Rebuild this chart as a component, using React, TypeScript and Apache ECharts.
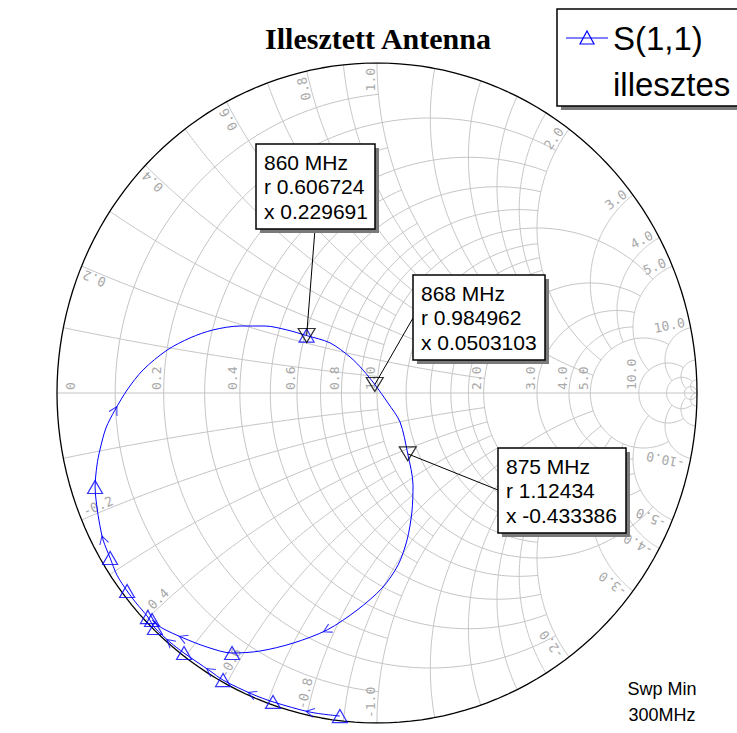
import React, { useEffect, useRef } from "react";
import * as echarts from "echarts";

const traceRe = [-0.116, -0.209, -0.325, -0.391, -0.481, -0.522, -0.603, -0.647, -0.694, -0.716, -0.753, -0.781, -0.8125, -0.834, -0.856, -0.869, -0.878, -0.881, -0.875, -0.866, -0.847, -0.819, -0.781, -0.731, -0.656, -0.584, -0.513, -0.428, -0.35, -0.281, -0.22, -0.147, -0.084, -0.044, -0.007, 0.034, 0.072, 0.096, 0.1125, 0.109, 0.094, 0.066, 0.016, -0.0625, -0.156, -0.2625, -0.366, -0.453, -0.531, -0.606, -0.672, -0.703];
const traceIm = [-0.979, -0.967, -0.936, -0.912, -0.87, -0.842, -0.788, -0.755, -0.712, -0.679, -0.636, -0.6, -0.552, -0.5, -0.445, -0.385, -0.324, -0.285, -0.218, -0.173, -0.106, -0.052, 0.009, 0.07, 0.13, 0.167, 0.191, 0.203, 0.203, 0.191, 0.174, 0.152, 0.109, 0.07, 0.026, -0.03, -0.088, -0.184, -0.279, -0.361, -0.445, -0.521, -0.591, -0.658, -0.718, -0.758, -0.782, -0.788, -0.77, -0.742, -0.712, -0.688];
const triangleIdx = [0, 2, 4, 6, 8, 9, 11, 13, 17, 30, 47, 51];
const arrowIdx = [1, 3, 5, 7, 14, 21, 44, 49];

// Markers (normalized impedance)
const markerFreq = ["860 MHz", "868 MHz", "875 MHz"];
const markerR = [0.606724, 0.984962, 1.12434];
const markerX = [0.229691, 0.0503103, -0.433386];

// Smith grid definition
const gridVals = [0.1, 0.2, 0.3, 0.4, 0.5, 0.6, 0.7, 0.8, 0.9, 1.0, 1.2, 1.4, 1.6, 1.8, 2.0, 3.0, 4.0, 5.0, 10, 20, 50];
const gridLimits = [1, 2, 1, 2, 1, 2, 1, 2, 1, 5, 2, 2, 2, 2, 5, 5, 5, 10, 20, 50, Infinity];
const rLabels = [0, 0.2, 0.4, 0.6, 0.8, 1.0, 2.0, 3.0, 4.0, 5.0, 10.0];
const xLabels = [0.2, 0.4, 0.6, 0.8, 1.0, 2.0, 3.0, 4.0, 5.0, 10.0];

const titleText = "Illesztett Antenna";
const legendLines = ["S(1,1)", "illesztes"];
const sweepLines = ["Swp Min", "300MHz"];

function gam(r: number, x: number): [number, number] {
  const d = (r + 1) * (r + 1) + x * x;
  return [(r * r + x * x - 1) / d, (2 * x) / d];
}

function rCircle(r: number, X: number): number[][] {
  const c = r / (1 + r);
  const R = 1 / (1 + r);
  let p0 = 0;
  if (isFinite(X)) {
    const g = gam(r, X);
    p0 = Math.atan2(g[1], g[0] - c);
  }
  const pts: number[][] = [];
  const n = 180;
  for (let i = 0; i <= n; i++) {
    const phi = p0 + ((2 * Math.PI - 2 * p0) * i) / n;
    pts.push([c + R * Math.cos(phi), R * Math.sin(phi)]);
  }
  return pts;
}

function xArc(x: number, Rm: number, sign: number): number[][] {
  const cy = 1 / x;
  const R = 1 / x;
  const g0 = gam(0, x);
  const a0 = Math.atan2(g0[1] - cy, g0[0] - 1);
  let a1 = -Math.PI / 2;
  if (isFinite(Rm)) {
    const g1 = gam(Rm, x);
    a1 = Math.atan2(g1[1] - cy, g1[0] - 1);
  }
  while (a1 < a0) a1 += 2 * Math.PI;
  const pts: number[][] = [];
  const n = 140;
  for (let i = 0; i <= n; i++) {
    const a = a0 + ((a1 - a0) * i) / n;
    pts.push([1 + R * Math.cos(a), sign * (cy + R * Math.sin(a))]);
  }
  return pts;
}

function zToGamma(r: number, x: number): [number, number] {
  return gam(r, x);
}

export default function App() {
  const ref = useRef<HTMLDivElement>(null);

  useEffect(() => {
    const chart = echarts.init(ref.current!, null, { renderer: "svg" });
    const gridColor = "#c4c4c4";
    const series: any[] = [];
    const lineSeries = (data: number[][], color: string, width: number) => ({
      type: "line",
      data,
      symbol: "none",
      silent: true,
      smooth: false,
      lineStyle: { color, width },
      z: 1,
    });

    gridVals.forEach((v, i) => {
      series.push(lineSeries(rCircle(v, gridLimits[i]), gridColor, 1));
      series.push(lineSeries(xArc(v, gridLimits[i], 1), gridColor, 1));
      series.push(lineSeries(xArc(v, gridLimits[i], -1), gridColor, 1));
    });
    series.push(lineSeries([[-1, 0], [1, 0]], gridColor, 1));
    series.push(lineSeries(rCircle(0, Infinity), "#000000", 1.3));

    const trace = traceRe.map((re, i) => [re, traceIm[i]]);
    series.push({
      type: "line",
      data: trace,
      symbol: "none",
      smooth: 0.3,
      silent: true,
      lineStyle: { color: "#0000ff", width: 1 },
      z: 5,
    });
    series.push({
      type: "scatter",
      data: triangleIdx.map((i) => trace[i]),
      symbol: "triangle",
      symbolSize: [15, 13],
      silent: true,
      itemStyle: { color: "rgba(0,0,0,0)", borderColor: "#0000ff", borderWidth: 1.2 },
      z: 6,
    });
    series.push({
      type: "scatter",
      data: arrowIdx.map((i) => {
        const a = trace[Math.max(0, i - 1)];
        const b = trace[Math.min(trace.length - 1, i + 1)];
        const ang = (Math.atan2((b[1] - a[1]) * 330, (b[0] - a[0]) * 320) * 180) / Math.PI;
        return { value: trace[i], symbolRotate: ang - 90 };
      }),
      symbol: "path://M0,10 L5,0 L10,10",
      symbolSize: [9, 8],
      silent: true,
      itemStyle: { color: "rgba(0,0,0,0)", borderColor: "#0000ff", borderWidth: 1 },
      z: 6,
    });
    const markerPts = markerR.map((r, i) => zToGamma(r, markerX[i]));
    series.push({
      type: "scatter",
      data: markerPts,
      symbol: "triangle",
      symbolRotate: 180,
      symbolSize: [17, 14],
      silent: true,
      itemStyle: { color: "rgba(0,0,0,0)", borderColor: "#000000", borderWidth: 1.2 },
      z: 7,
    });

    chart.setOption({
      animation: false,
      backgroundColor: "#ffffff",
      grid: { left: 57, top: 63, width: 640, height: 660 },
      xAxis: { type: "value", min: -1, max: 1, show: false },
      yAxis: { type: "value", min: -1, max: 1, show: false },
      series,
    });

    const toPx = (p: number[]) => chart.convertToPixel({ gridIndex: 0 }, p) as number[];
    const els: any[] = [];
    const labelFont = "13px 'DejaVu Sans Mono', monospace";
    const labelColor = "#a8a8a8";

    rLabels.forEach((r) => {
      const cross = toPx([(r - 1) / (r + 1), 0]);
      const px = r === 0 ? cross[0] + 13 : cross[0] - 7;
      els.push({
        type: "text",
        x: px,
        y: cross[1] - 3,
        rotation: Math.PI / 2,
        z: 2,
        style: {
          text: r === 0 ? "0" : r.toFixed(1),
          fill: labelColor,
          font: labelFont,
          align: "left",
          verticalAlign: "middle",
          textAlign: "left",
          textVerticalAlign: "middle",
        },
      });
    });

    xLabels.forEach((v) => {
      [1, -1].forEach((s) => {
        const g = gam(0, v * s);
        const p = toPx([g[0] * 0.985, g[1] * 0.985]);
        let th = Math.atan2(g[1], g[0]);
        if (s < 0) th += Math.PI;
        const al = s > 0 ? "right" : "left";
        els.push({
          type: "text",
          x: p[0],
          y: p[1],
          rotation: th,
          z: 2,
          style: {
            text: (v * s).toFixed(1),
            fill: labelColor,
            font: labelFont,
            align: al,
            verticalAlign: "bottom",
            textAlign: al,
            textVerticalAlign: "bottom",
          },
        });
      });
    });

    // Title
    els.push({
      type: "text",
      x: 378,
      y: 38,
      z: 20,
      style: {
        text: titleText,
        fill: "#000000",
        font: "bold 30px 'Liberation Serif', 'Times New Roman', serif",
        align: "center",
        verticalAlign: "middle",
        textAlign: "center",
        textVerticalAlign: "middle",
      },
    });

    // Legend
    els.push({ type: "rect", z: 20, shape: { x: 561, y: 13, width: 200, height: 97 }, style: { fill: "#7a7a7a" } });
    els.push({ type: "rect", z: 21, shape: { x: 557, y: 9, width: 200, height: 97 }, style: { fill: "#ffffff", stroke: "#000000", lineWidth: 1.5 } });
    els.push({ type: "line", z: 22, shape: { x1: 566, y1: 38, x2: 608, y2: 38 }, style: { stroke: "#0000ff", lineWidth: 1 } });
    els.push({ type: "polygon", z: 22, shape: { points: [[580, 44], [594, 44], [587, 31]] }, style: { fill: "none", stroke: "#0000ff", lineWidth: 1.2 } });
    legendLines.forEach((t, i) => {
      els.push({
        type: "text",
        x: 613,
        y: 38 + i * 46,
        z: 22,
        style: {
          text: t,
          fill: "#000000",
          font: "33px 'Liberation Sans', Arial, sans-serif",
          align: "left",
          verticalAlign: "middle",
          textAlign: "left",
          textVerticalAlign: "middle",
        },
      });
    });

    // Marker boxes
    const boxes = [
      { x: 256, y: 144, w: 119, h: 85, ax: 315, ay: 229 },
      { x: 413, y: 275, w: 132, h: 85, ax: 413, ay: 318 },
      { x: 498, y: 448, w: 128, h: 85, ax: 498, ay: 490 },
    ];
    boxes.forEach((b, i) => {
      const mp = toPx(markerPts[i]);
      els.push({ type: "line", z: 19, shape: { x1: b.ax, y1: b.ay, x2: mp[0], y2: mp[1] }, style: { stroke: "#000000", lineWidth: 1 } });
      els.push({ type: "rect", z: 20, shape: { x: b.x + 4, y: b.y + 4, width: b.w, height: b.h }, style: { fill: "#7a7a7a" } });
      els.push({ type: "rect", z: 21, shape: { x: b.x, y: b.y, width: b.w, height: b.h }, style: { fill: "#ffffff", stroke: "#000000", lineWidth: 1.5 } });
      const lines = [markerFreq[i], "r " + markerR[i], "x " + markerX[i]];
      lines.forEach((t, k) => {
        els.push({
          type: "text",
          x: b.x + 8,
          y: b.y + 18 + k * 24.5,
          z: 22,
          style: {
            text: t,
            fill: "#000000",
            font: "21px 'Liberation Sans', Arial, sans-serif",
            align: "left",
            verticalAlign: "middle",
            textAlign: "left",
            textVerticalAlign: "middle",
          },
        });
      });
    });

    // Sweep text
    sweepLines.forEach((t, i) => {
      els.push({
        type: "text",
        x: 662,
        y: 689 + i * 26,
        z: 22,
        style: {
          text: t,
          fill: "#000000",
          font: "18px 'Liberation Sans', Arial, sans-serif",
          align: "center",
          verticalAlign: "middle",
          textAlign: "center",
          textVerticalAlign: "middle",
        },
      });
    });

    chart.setOption({ graphic: { elements: els } });

    return () => chart.dispose();
  }, []);

  return (
    <div
      ref={ref}
      style={{ position: "fixed", left: 0, top: 0, width: 737, height: 733, background: "#ffffff" }}
    />
  );
}
